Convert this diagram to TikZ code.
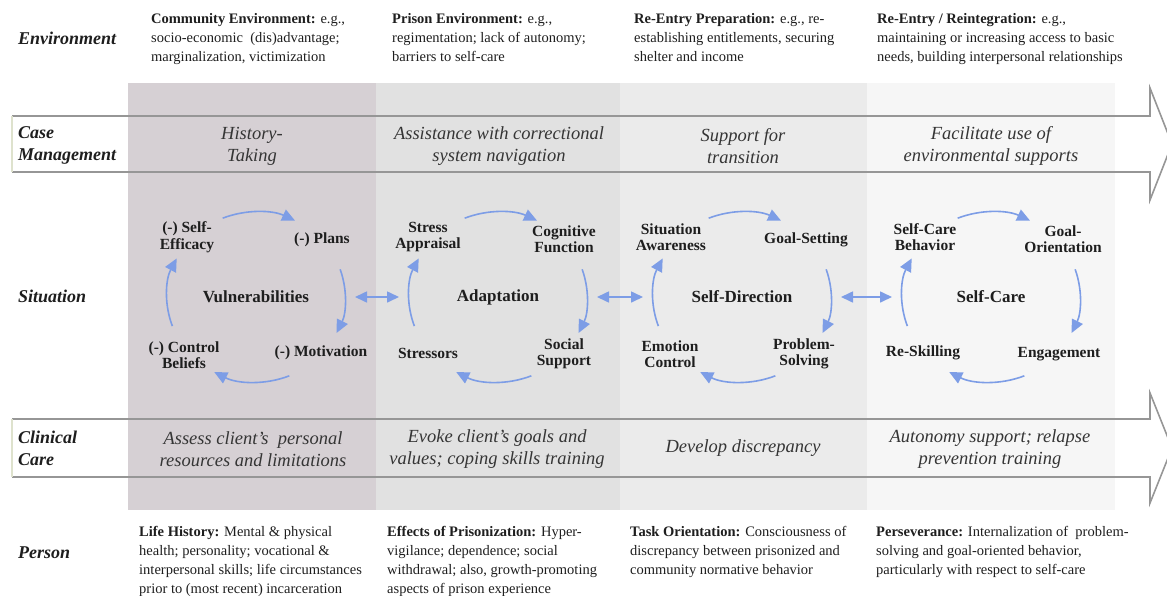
\documentclass[tikz,border=0pt]{standalone}
\usepackage{fontspec}
\setmainfont{Liberation Serif}
\usetikzlibrary{arrows.meta}

\definecolor{colA}{RGB}{214,208,212}
\definecolor{colB}{RGB}{225,225,225}
\definecolor{colC}{RGB}{235,235,235}
\definecolor{colD}{RGB}{246,246,246}
\definecolor{bandline}{RGB}{150,150,150}
\definecolor{bandedge}{RGB}{222,226,205}
\definecolor{cycblue}{RGB}{125,157,230}
\definecolor{ink}{RGB}{30,30,30}

\tikzstyle{rowlabel} = [anchor=west, align=left, inner sep=0, text=ink,
  font=\fontsize{18}{22}\selectfont\bfseries\itshape]
\tikzstyle{bodytext} = [anchor=north west, align=left, inner sep=0, text=ink,
  font=\fontsize{14.5}{19}\selectfont]
\tikzstyle{bandtext} = [align=center, inner sep=0, text=ink!90,
  font=\fontsize{18.5}{22}\selectfont\itshape]
\tikzstyle{cycle} = [circle, minimum size=178pt, inner sep=0, outer sep=0, text=ink,
  font=\fontsize{17}{20}\selectfont\bfseries]
\tikzstyle{corner} = [align=center, inner sep=0, text=ink,
  font=\fontsize{15.5}{16.5}\selectfont\bfseries]
\tikzstyle{band} = [draw=bandline, line width=1.6pt, line join=miter]
\tikzstyle{cycarrow} = [cycblue, line width=1.6pt, -{Triangle[length=13pt,width=12pt]}]
\tikzstyle{link} = [cycblue, line width=1.6pt, shorten <=10pt, shorten >=10pt,
  {Triangle[length=12pt,width=11pt]}-{Triangle[length=12pt,width=11pt]}]

\begin{document}
\begin{tikzpicture}[x=1pt, y=1pt]
  \useasboundingbox (0,0) rectangle (1167,-595);

  % phase columns
  \fill[colA] (128,-83) rectangle (376,-510);
  \fill[colB] (376,-83) rectangle (620,-510);
  \fill[colC] (620,-83) rectangle (867,-510);
  \fill[colD] (867,-83) rectangle (1115,-510);

  % the two long arrows
  \draw[band] (12,-116) -- (1150,-116) -- (1150,-88) -- (1172,-144) -- (1150,-200) -- (1150,-172) -- (12,-172);
  \draw[bandedge, line width=1.2pt] (12,-116) -- (12,-172);
  \draw[band] (12,-419) -- (1150,-419) -- (1150,-393) -- (1172,-448) -- (1150,-503) -- (1150,-477) -- (12,-477);
  \draw[bandedge, line width=1.2pt] (12,-419) -- (12,-477);

  \node[rowlabel] (envlbl) at (18,-38) {Environment};
  \node[rowlabel] (caselbl) at (18,-145) {Case\\Management};
  \node[rowlabel] (sitlbl) at (18,-296) {Situation};
  \node[rowlabel] (clinlbl) at (18,-448) {Clinical\\Care};
  \node[rowlabel] (perlbl) at (18,-553) {Person};

  \node[bodytext] (env1) at (151,-13) {\textbf{Community Environment:} e.g.,\\socio-economic\ \ (dis)advantage;\\marginalization, victimization};
  \node[bodytext] (env2) at (392,-13) {\textbf{Prison Environment:} e.g.,\\regimentation; lack of autonomy;\\barriers to self-care};
  \node[bodytext] (env3) at (634,-13) {\textbf{Re-Entry Preparation:} e.g., re-\\establishing entitlements, securing\\shelter and income};
  \node[bodytext] (env4) at (877,-13) {\textbf{Re-Entry / Reintegration:} e.g.,\\maintaining or increasing access to basic\\needs, building interpersonal relationships};

  \node[bandtext] (case1) at (252,-146) {History-\\Taking};
  \node[bandtext] (case2) at (499,-146) {Assistance with correctional\\system navigation};
  \node[bandtext] (case3) at (743,-146) {Support for\\transition};
  \node[bandtext] (case4) at (991,-146) {Facilitate use of\\environmental supports};

  \node[bandtext] (clin1) at (253,-449) {Assess client's\ \ personal\\resources and limitations};
  \node[bandtext] (clin2) at (497,-449) {Evoke client's goals and\\values; coping skills training};
  \node[bandtext] (clin3) at (743,-448) {Develop discrepancy};
  \node[bandtext] (clin4) at (990,-449) {Autonomy support; relapse\\prevention training};

  \node[bodytext] (per1) at (139,-526) {\textbf{Life History:} Mental \& physical\\health; personality; vocational \&\\interpersonal skills; life circumstances\\prior to (most recent) incarceration};
  \node[bodytext] (per2) at (387,-526) {\textbf{Effects of Prisonization:} Hyper-\\vigilance; dependence; social\\withdrawal; also, growth-promoting\\aspects of prison experience};
  \node[bodytext] (per3) at (630,-526) {\textbf{Task Orientation:} Consciousness of\\discrepancy between prisonized and\\community normative behavior};
  \node[bodytext] (per4) at (876,-526) {\textbf{Perseverance:} Internalization of\ \ problem-\\solving and goal-oriented behavior,\\particularly with respect to self-care};

  % situation cycles
  \node[cycle] (vul) at (256,-297) {Vulnerabilities};
  \node[cycle] (ada) at (498,-297) {Adaptation};
  \node[cycle] (sdir) at (742,-297) {Self-Direction};
  \node[cycle] (scare) at (991,-297) {Self-Care};

  \node[corner] (vul-tl) at ([shift={(-69,60)}]vul.center) {(-) Self-\\Efficacy};
  \node[corner] (vul-tr) at ([shift={(66,57)}]vul.center) {(-) Plans};
  \node[corner] (vul-br) at ([shift={(65,-56)}]vul.center) {(-) Motivation};
  \node[corner] (vul-bl) at ([shift={(-72,-58)}]vul.center) {(-) Control\\Beliefs};

  \node[corner] (ada-tl) at ([shift={(-70,60)}]ada.center) {Stress\\Appraisal};
  \node[corner] (ada-tr) at ([shift={(66,58)}]ada.center) {Cognitive\\Function};
  \node[corner] (ada-br) at ([shift={(66,-57)}]ada.center) {Social\\Support};
  \node[corner] (ada-bl) at ([shift={(-70,-56)}]ada.center) {Stressors};

  \node[corner] (sdir-tl) at ([shift={(-71,60)}]sdir.center) {Situation\\Awareness};
  \node[corner] (sdir-tr) at ([shift={(64,57)}]sdir.center) {Goal-Setting};
  \node[corner] (sdir-br) at ([shift={(62,-57)}]sdir.center) {Problem-\\Solving};
  \node[corner] (sdir-bl) at ([shift={(-72,-57)}]sdir.center) {Emotion\\Control};

  \node[corner] (scare-tl) at ([shift={(-66,60)}]scare.center) {Self-Care\\Behavior};
  \node[corner] (scare-tr) at ([shift={(72,58)}]scare.center) {Goal-\\Orientation};
  \node[corner] (scare-br) at ([shift={(68,-57)}]scare.center) {Engagement};
  \node[corner] (scare-bl) at ([shift={(-68,-56)}]scare.center) {Re-Skilling};

  \foreach \c in {vul,ada,sdir,scare} {
    \foreach \a/\b in {112/64, 19/-25, -68/-118, 200/153}
      \draw[cycarrow] ([shift={(\a:89 and 85)}]\c.center) arc[start angle=\a, end angle=\b, x radius=89, y radius=85];
  }

  \draw[link] (vul) -- (ada);
  \draw[link] (ada) -- (sdir);
  \draw[link] (sdir) -- (scare);
\end{tikzpicture}
\end{document}
